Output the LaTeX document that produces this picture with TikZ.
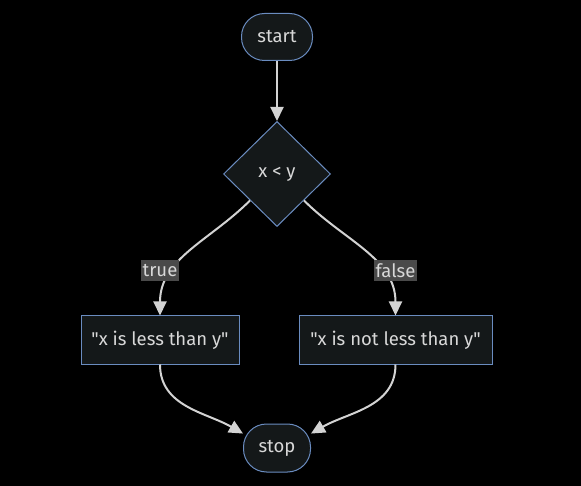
\documentclass[tikz,border=0pt]{standalone}
\usepackage{fontspec}
\setmainfont{Fira Sans}[Ligatures=TeXOff]
\usetikzlibrary{arrows.meta,shapes.geometric}
\definecolor{nodefill}{HTML}{141819}
\definecolor{nodeline}{HTML}{6A8CC0}
\definecolor{txt}{HTML}{D8D8D8}
\definecolor{wire}{HTML}{D3D3D3}
\definecolor{lblfill}{HTML}{4A4A4A}
\begin{document}
\begin{tikzpicture}[x=1pt,y=-1pt,font=\fontsize{18.5}{22}\selectfont]

      \fill[black] (0,0) rectangle (581,486);

      \begin{scope}[every node/.style={draw=nodeline, fill=nodefill, text=txt, line width=1pt, inner sep=0pt}]
        \node[rounded corners=23pt, minimum width=71pt, minimum height=47pt] (1) at (277,37) {start};
        \node[diamond, minimum width=107pt, minimum height=105pt] (2) at (277,174) {x < y};
        \node[minimum width=158pt, minimum height=48pt] (3) at (160,340) {"x is less than y"};
        \node[minimum width=193pt, minimum height=48pt] (4) at (395.5,340) {"x is not less than y"};
        \node[rounded corners=23pt, minimum width=67pt, minimum height=48pt] (5) at (277,448) {stop};
      \end{scope}

      \begin{scope}[every edge/.style={draw=wire, line width=2pt, -{Triangle[length=14pt,width=13pt]}}]
        \path (1) edge (2);
        \path (2.south west) edge[out=-135, in=90] (3);
        \path (2.south east) edge[out=-45, in=90] (4);
        \path (3.south) edge[out=-90, in=150] (5.157);
        \path (4.south) edge[out=-90, in=30] (5.23);
      \end{scope}

      \begin{scope}[every node/.style={fill=lblfill, text=txt, inner xsep=2pt, inner ysep=0pt, minimum height=21pt}]
        \node (6) at (160,271) {true};
        \node (7) at (395.5,271) {false};
      \end{scope}

    \end{tikzpicture}
\end{document}
